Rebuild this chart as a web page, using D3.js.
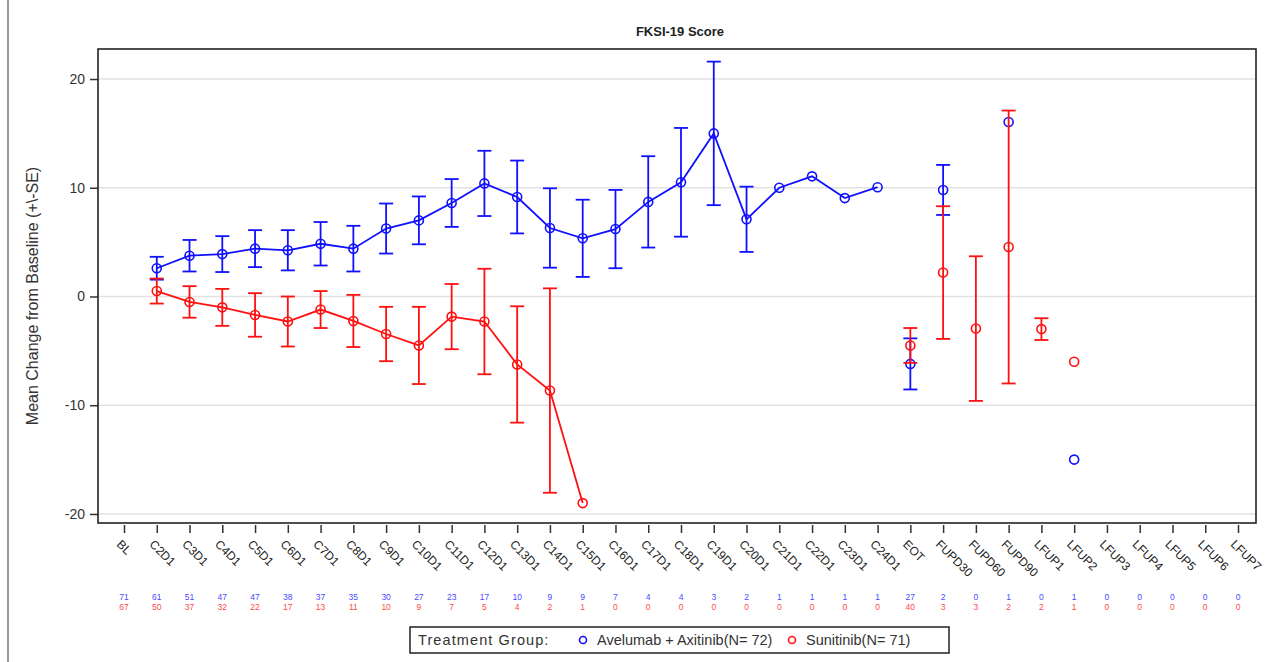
<!DOCTYPE html>
<html>
<head>
<meta charset="utf-8">
<script src="https://cdn.jsdelivr.net/npm/d3@7"></script>
<style>
  html, body { margin: 0; padding: 0; background: #fff; }
  svg { display: block; font-family: "Liberation Sans", Arial, sans-serif; }
</style>
</head>
<body>
<svg id="chart" width="1279" height="662"></svg>
<script>
// ---------------- data ----------------
const categories = ["BL","C2D1","C3D1","C4D1","C5D1","C6D1","C7D1","C8D1","C9D1","C10D1",
  "C11D1","C12D1","C13D1","C14D1","C15D1","C16D1","C17D1","C18D1","C19D1","C20D1",
  "C21D1","C22D1","C23D1","C24D1","EOT","FUPD30","FUPD60","FUPD90",
  "LFUP1","LFUP2","LFUP3","LFUP4","LFUP5","LFUP6","LFUP7"];

const avelumabMean = [null, 2.6, 3.75, 3.9, 4.4, 4.25, 4.85, 4.4, 6.25, 7.0,
  8.6, 10.4, 9.15, 6.3, 5.35, 6.2, 8.7, 10.5, 15.0, 7.1,
  10.0, 11.05, 9.05, 10.05, -6.2, 9.8, null, 16.05,
  null, -15.0, null, null, null, null, null];
const avelumabSE = [null, 1.05, 1.45, 1.65, 1.7, 1.85, 2.0, 2.1, 2.3, 2.2,
  2.2, 3.0, 3.35, 3.65, 3.55, 3.6, 4.2, 5.0, 6.6, 3.0,
  null, null, null, null, 2.35, 2.3, null, null,
  null, null, null, null, null, null, null];

const sunitinibMean = [null, 0.5, -0.5, -1.0, -1.7, -2.3, -1.2, -2.25, -3.45, -4.5,
  -1.85, -2.3, -6.25, -8.65, -19.0, null, null, null, null, null,
  null, null, null, null, -4.5, 2.2, -2.95, 4.55,
  -3.0, -6.0, null, null, null, null, null];
const sunitinibSE = [null, 1.15, 1.45, 1.7, 2.0, 2.3, 1.7, 2.4, 2.5, 3.55,
  3.0, 4.85, 5.35, 9.4, null, null, null, null, null, null,
  null, null, null, null, 1.6, 6.1, 6.65, 12.55,
  1.0, null, null, null, null, null, null];

const avelumabN = [71, 61, 51, 47, 47, 38, 37, 35, 30, 27, 23, 17, 10, 9, 9, 7, 4, 4, 3, 2,
  1, 1, 1, 1, 27, 2, 0, 1, 0, 1, 0, 0, 0, 0, 0];
const sunitinibN = [67, 50, 37, 32, 22, 17, 13, 11, 10, 9, 7, 5, 4, 2, 1, 0, 0, 0, 0, 0,
  0, 0, 0, 0, 40, 3, 3, 2, 2, 1, 0, 0, 0, 0, 0];

const yTicks = [-20, -10, 0, 10, 20];
const titleText = "FKSI-19 Score";
const yTitle = "Mean Change from Baseline (+\\-SE)";
const legendTitle = "Treatment Group:";
const seriesNames = ["Avelumab + Axitinib(N= 72)", "Sunitinib(N= 71)"];

// ---------------- layout ----------------
const svg = d3.select("#chart");
const frame = {left: 98, right: 1256, top: 49, bottom: 523};
const BLUE = "#1010ff", RED = "#ff1010";

const x = d3.scalePoint().domain(categories).range([124, 1238]);
const y = d3.scaleLinear().domain([-20.83, 22.76]).range([frame.bottom, frame.top]);

// page left rule
svg.append("line").attr("x1", 8).attr("x2", 8).attr("y1", 0).attr("y2", 662)
  .attr("stroke", "#9a9a9a").attr("stroke-width", 2);

// grid lines
svg.append("g").selectAll("line").data(yTicks).join("line")
  .attr("x1", frame.left).attr("x2", frame.right)
  .attr("y1", d => y(d)).attr("y2", d => y(d))
  .attr("stroke", "#e2e2e2").attr("stroke-width", 1.5);

// title
svg.append("text").attr("x", 680).attr("y", 36).attr("text-anchor", "middle")
  .attr("font-size", 13).attr("font-weight", "bold").attr("fill", "#222").text(titleText);

// y axis
const yAxis = svg.append("g").attr("transform", `translate(${frame.left},0)`)
  .call(d3.axisLeft(y).tickValues(yTicks).tickSize(8).tickPadding(5).tickFormat(d => String(d)));
yAxis.select(".domain").remove();
yAxis.selectAll(".tick line").attr("stroke", "#333").attr("stroke-width", 1.5);
yAxis.selectAll(".tick text").attr("font-size", 14).attr("fill", "#333")
  .attr("font-family", "Liberation Sans, Arial, sans-serif");

svg.append("text")
  .attr("transform", `translate(38,${(frame.top + frame.bottom) / 2 + 10}) rotate(-90)`)
  .attr("text-anchor", "middle").attr("font-size", 16).attr("fill", "#333").text(yTitle);

// x axis
const xAxis = svg.append("g").attr("transform", `translate(0,${frame.bottom + 2})`)
  .call(d3.axisBottom(x).tickSize(8).tickFormat(""));
xAxis.select(".domain").remove();
xAxis.selectAll(".tick line").attr("stroke", "#333").attr("stroke-width", 1.5);

svg.append("g").selectAll("text").data(categories).join("text")
  .attr("transform", d => `translate(${x(d) - 8},${frame.bottom + 22}) rotate(45)`)
  .attr("text-anchor", "start").attr("font-size", 12).attr("fill", "#222").text(d => d);

// frame
svg.append("rect").attr("x", frame.left).attr("y", frame.top)
  .attr("width", frame.right - frame.left).attr("height", frame.bottom - frame.top)
  .attr("fill", "none").attr("stroke", "#222").attr("stroke-width", 1.6);

// series
function drawSeries(means, ses, color) {
  const g = svg.append("g");
  const pts = categories.map((c, i) => ({c, i, m: means[i], se: ses[i]}))
    .filter(d => d.m !== null);
  const onTx = pts.filter(d => /^C\d+D1$/.test(d.c));
  const line = d3.line().x(d => x(d.c)).y(d => y(d.m));
  g.append("path").datum(onTx).attr("d", line)
    .attr("fill", "none").attr("stroke", color).attr("stroke-width", 1.8);
  const eb = pts.filter(d => d.se !== null);
  const cap = 7;
  g.selectAll(".ev").data(eb).join("line")
    .attr("x1", d => x(d.c)).attr("x2", d => x(d.c))
    .attr("y1", d => y(d.m + d.se)).attr("y2", d => y(d.m - d.se))
    .attr("stroke", color).attr("stroke-width", 1.8);
  g.selectAll(".et").data(eb).join("line")
    .attr("x1", d => x(d.c) - cap).attr("x2", d => x(d.c) + cap)
    .attr("y1", d => y(d.m + d.se)).attr("y2", d => y(d.m + d.se))
    .attr("stroke", color).attr("stroke-width", 1.8);
  g.selectAll(".eb").data(eb).join("line")
    .attr("x1", d => x(d.c) - cap).attr("x2", d => x(d.c) + cap)
    .attr("y1", d => y(d.m - d.se)).attr("y2", d => y(d.m - d.se))
    .attr("stroke", color).attr("stroke-width", 1.8);
  g.selectAll("circle").data(pts).join("circle")
    .attr("cx", d => x(d.c)).attr("cy", d => y(d.m)).attr("r", 4.5)
    .attr("fill", "none").attr("stroke", color).attr("stroke-width", 1.6);
}
drawSeries(avelumabMean, avelumabSE, BLUE);
drawSeries(sunitinibMean, sunitinibSE, RED);

// at-risk counts
svg.append("g").selectAll("text").data(avelumabN).join("text")
  .attr("x", (d, i) => x(categories[i])).attr("y", 600)
  .attr("text-anchor", "middle").attr("font-size", 8.5).attr("fill", "#4a4aff").text(d => d);
svg.append("g").selectAll("text").data(sunitinibN).join("text")
  .attr("x", (d, i) => x(categories[i])).attr("y", 610)
  .attr("text-anchor", "middle").attr("font-size", 8.5).attr("fill", "#ff4a4a").text(d => d);

// legend
const lg = svg.append("g");
lg.append("rect").attr("x", 410).attr("y", 627).attr("width", 539).attr("height", 26)
  .attr("fill", "#fff").attr("stroke", "#222").attr("stroke-width", 1.5);
lg.append("text").attr("x", 418).attr("y", 645).attr("font-size", 14.5).attr("letter-spacing", 1.1)
  .attr("fill", "#333").text(legendTitle);
lg.append("circle").attr("cx", 583).attr("cy", 640).attr("r", 3.5)
  .attr("fill", "none").attr("stroke", BLUE).attr("stroke-width", 1.6);
lg.append("text").attr("x", 597).attr("y", 645).attr("font-size", 14.5).attr("fill", "#333").text(seriesNames[0]);
lg.append("circle").attr("cx", 792).attr("cy", 640).attr("r", 3.5)
  .attr("fill", "none").attr("stroke", RED).attr("stroke-width", 1.6);
lg.append("text").attr("x", 806).attr("y", 645).attr("font-size", 14.5).attr("fill", "#333").text(seriesNames[1]);
</script>
</body>
</html>
